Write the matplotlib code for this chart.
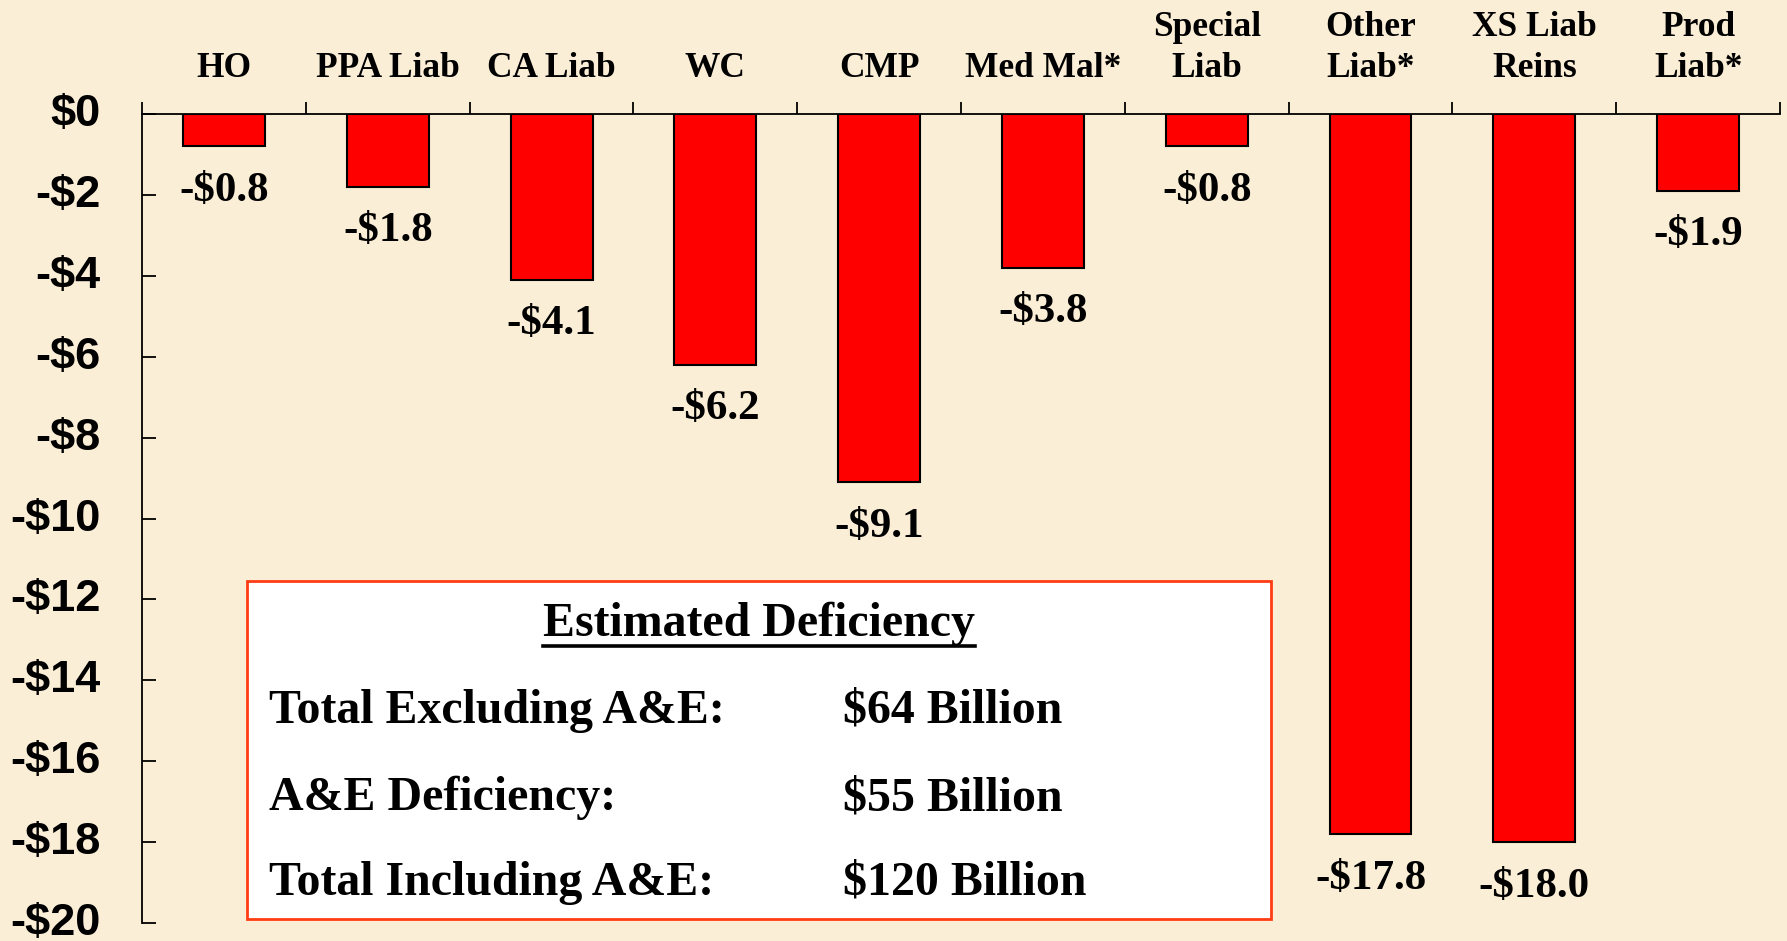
import matplotlib
matplotlib.use("Agg")
import matplotlib.pyplot as plt
import matplotlib.transforms as mtransforms
import numpy as np
from matplotlib.patches import Rectangle

categories = ["HO", "PPA Liab", "CA Liab", "WC", "CMP", "Med Mal*",
              "Special\nLiab", "Other\nLiab*", "XS Liab\nReins", "Prod\nLiab*"]
deficiency = [-0.8, -1.8, -4.1, -6.2, -9.1, -3.8, -0.8, -17.8, -18.0, -1.9]
y_ticks = [0, -2, -4, -6, -8, -10, -12, -14, -16, -18, -20]

box_title = "Estimated Deficiency"
box_rows = ["Total Excluding A&E:", "A&E Deficiency:", "Total Including A&E:"]
box_values = ["$64 Billion", "$55 Billion", "$120 Billion"]

BG = "#FBEED6"
SERIF = "Liberation Serif"
SANS = "Liberation Sans"
W, H = 1787, 941

fig = plt.figure(figsize=(W / 100, H / 100), dpi=100)
fig.patch.set_facecolor(BG)
ax = fig.add_axes([0.0795, 0.019, 0.9166, 0.8599])
ax.set_facecolor("none")

x = np.arange(len(categories))
ax.bar(x, deficiency, width=0.5, color="#FF0000", edgecolor="black", linewidth=1.5, zorder=3)

for xi, v in zip(x, deficiency):
    ax.annotate(f"-${abs(v):.1f}", (xi, v), xytext=(0, -32), textcoords="offset points",
                ha="center", va="center", fontsize=31, fontweight="bold", family=SERIF)

ax.set_xlim(-0.5, len(categories) - 0.5)
ax.set_ylim(-20, 0)

# only the left axis and the zero line along the top
ax.spines["right"].set_visible(False)
ax.spines["bottom"].set_visible(False)
ax.spines["left"].set_linewidth(1.3)
ax.spines["top"].set_linewidth(1.3)

ax.set_yticks(y_ticks)
ax.set_yticklabels(["$0" if t == 0 else f"-${abs(t)}" for t in y_ticks],
                   fontsize=32.5, fontweight="bold", family=SANS)
ax.tick_params(axis="y", direction="in", length=10, width=1.3, pad=30)
# lift the labels a few pixels so the bottom one stays inside the figure
lift = mtransforms.ScaledTranslation(0, 4 / 100, fig.dpi_scale_trans)
for lbl in ax.get_yticklabels():
    lbl.set_transform(lbl.get_transform() + lift)

ax.xaxis.tick_top()
ax.set_xticks(np.arange(len(categories) + 1) - 0.5)
ax.set_xticklabels([])
ax.tick_params(axis="x", which="major", direction="out", length=9, width=1.3)
ax.set_xticks(x, minor=True)
ax.set_xticklabels(categories, minor=True, fontsize=25.5, fontweight="bold",
                   family=SERIF, linespacing=1.3)
ax.tick_params(axis="x", which="minor", length=0, pad=21)

# summary box
ax.add_patch(Rectangle((0.0641, 0.005), 0.625, 0.418, transform=ax.transAxes,
                       facecolor="white", edgecolor="#FF3C14", linewidth=2, zorder=4))
title = fig.text(759 / W, 1 - 624 / H, box_title, ha="center", va="center",
                 fontsize=34.5, fontweight="bold", family=SERIF, zorder=5)
fig.canvas.draw()
bb = title.get_window_extent()
fig.add_artist(plt.Line2D([bb.x0 / W, bb.x1 / W], [1 - 646 / H] * 2,
                          color="black", linewidth=2.6, transform=fig.transFigure, zorder=5))

row_y = [711, 798, 883]
for label, value, yy in zip(box_rows, box_values, row_y):
    fig.text(269 / W, 1 - yy / H, label, ha="left", va="center",
             fontsize=34.5, fontweight="bold", family=SERIF, zorder=5)
    fig.text(843 / W, 1 - yy / H, value, ha="left", va="center",
             fontsize=34.5, fontweight="bold", family=SERIF, zorder=5)

fig.savefig("out.png", dpi=100, facecolor=BG)
